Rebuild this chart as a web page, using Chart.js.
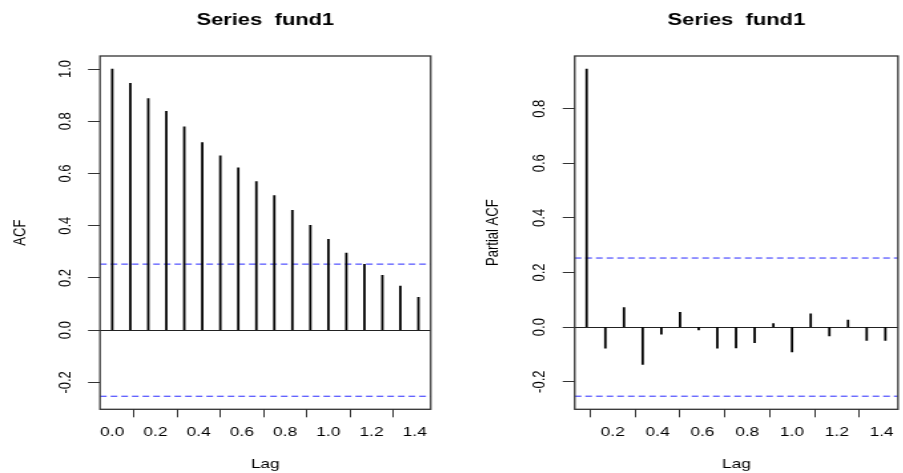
<!DOCTYPE html>
<html>
<head>
<meta charset="utf-8">
<script src="https://cdn.jsdelivr.net/npm/chart.js@4.4.0/dist/chart.umd.min.js"></script>
<style>
  html, body { margin: 0; padding: 0; background: #fff; width: 903px; height: 473px; overflow: hidden; }
  /* the R picture was stretched sideways, text and all, so stretch the canvases the same way */
  .panel { position: absolute; top: 0; height: 473px; transform: scaleX(1.33); transform-origin: 0 0; }
  #left { left: 0; width: 338.35px; }
  #right { left: 450px; width: 341.35px; }
</style>
</head>
<body>
<div class="panel" id="left"><canvas id="acfChart"></canvas></div>
<div class="panel" id="right"><canvas id="pacfChart"></canvas></div>
<script>
// lags are in years (monthly series, 1/12 steps)
const acfLags = [0, 0.0833, 0.1667, 0.25, 0.3333, 0.4167, 0.5, 0.5833, 0.6667, 0.75, 0.8333, 0.9167, 1.0, 1.0833, 1.1667, 1.25, 1.3333, 1.4167];
const acfValues = [1.0, 0.945, 0.887, 0.838, 0.779, 0.718, 0.668, 0.622, 0.569, 0.515, 0.459, 0.402, 0.348, 0.295, 0.252, 0.210, 0.169, 0.126];

const pacfLags = [0.0833, 0.1667, 0.25, 0.3333, 0.4167, 0.5, 0.5833, 0.6667, 0.75, 0.8333, 0.9167, 1.0, 1.0833, 1.1667, 1.25, 1.3333, 1.4167];
const pacfValues = [0.945, -0.077, 0.072, -0.137, -0.026, 0.054, -0.010, -0.077, -0.076, -0.057, 0.013, -0.091, 0.049, -0.032, 0.026, -0.049, -0.049];

const ciBound = 0.253; // blue dashed lines, +/- 1.96/sqrt(n)

const acfXTicks = [0, 0.2, 0.4, 0.6, 0.8, 1.0, 1.2, 1.4];
const acfYTicks = [-0.2, 0, 0.2, 0.4, 0.6, 0.8, 1.0];
const pacfXTicks = [0.2, 0.4, 0.6, 0.8, 1.0, 1.2, 1.4];
const pacfYTicks = [-0.2, 0, 0.2, 0.4, 0.6, 0.8];

const acfXRange = [-0.0567, 1.4733];
const acfYRange = [-0.303, 1.05];
const pacfXRange = [0.03, 1.473];
const pacfYRange = [-0.301, 0.993];

Chart.defaults.font.family = "'Liberation Sans', Arial, sans-serif";
Chart.defaults.font.size = 13;
Chart.defaults.color = '#000';

// box() round the plot region, like R does
const boxPlugin = {
  id: 'rBox',
  afterDraw(chart) {
    const { ctx, chartArea: a } = chart;
    ctx.save();
    ctx.strokeStyle = '#333';
    ctx.lineWidth = 1.3;
    ctx.strokeRect(a.left, a.top, a.right - a.left, a.bottom - a.top);
    ctx.restore();
  }
};

function fmt(v) {
  return Number(v).toFixed(1);
}

function drawCorrelogram(canvasId, cfg) {
  const ctx = document.getElementById(canvasId).getContext('2d');
  return new Chart(ctx, {
    type: 'bar',
    data: {
      datasets: [
        {
          type: 'bar',
          data: cfg.lags.map((lag, i) => ({ x: lag, y: cfg.values[i] })),
          backgroundColor: '#000',
          borderWidth: 0,
          barThickness: 1.15
        },
        {
          type: 'line',
          data: [{ x: cfg.xRange[0], y: ciBound }, { x: cfg.xRange[1], y: ciBound }],
          borderColor: '#2a2aff',
          borderWidth: 1,
          borderDash: [5, 3],
          pointRadius: 0
        },
        {
          type: 'line',
          data: [{ x: cfg.xRange[0], y: -ciBound }, { x: cfg.xRange[1], y: -ciBound }],
          borderColor: '#2a2aff',
          borderWidth: 1,
          borderDash: [5, 3],
          pointRadius: 0
        }
      ]
    },
    options: {
      responsive: true,
      maintainAspectRatio: false,
      animation: false,
      layout: { padding: { left: 0, right: cfg.padRight, top: 0, bottom: 0 } },
      plugins: {
        legend: { display: false },
        tooltip: { enabled: false },
        title: {
          display: true,
          text: 'Series  fund1',
          fullSize: false,
          color: '#000',
          font: { size: 16.5, weight: 'bold' },
          padding: { top: 10.6, bottom: 25.6 }
        }
      },
      scales: {
        x: {
          type: 'linear',
          min: cfg.xRange[0],
          max: cfg.xRange[1],
          offset: false,
          afterBuildTicks: (s) => { s.ticks = cfg.xTicks.map((v) => ({ value: v })); },
          afterFit: (s) => { s.height = 63.7; },
          ticks: { autoSkip: false, maxRotation: 0, padding: 7.5, callback: fmt },
          grid: { drawOnChartArea: false, tickLength: 8, tickColor: '#333' },
          border: { display: false },
          title: { display: true, text: 'Lag', font: { size: 13 }, padding: { top: 0, bottom: 1.2 } }
        },
        y: {
          type: 'linear',
          min: cfg.yRange[0],
          max: cfg.yRange[1],
          afterBuildTicks: (s) => { s.ticks = cfg.yTicks.map((v) => ({ value: v })); },
          afterFit: (s) => { s.width = cfg.axisWidth; },
          ticks: { minRotation: 90, maxRotation: 90, crossAlign: 'center', padding: 6, callback: fmt },
          grid: {
            drawOnChartArea: true,
            tickLength: 9,
            tickColor: '#333',
            // only the zero line goes across the plot
            color: (c) => (c.tick && c.tick.value === 0 ? '#222' : 'rgba(0,0,0,0)')
          },
          border: { display: false },
          title: { display: true, text: cfg.yTitle, font: { size: 13 }, padding: { top: cfg.yTitlePad, bottom: 0 } }
        }
      }
    },
    plugins: [boxPlugin]
  });
}

drawCorrelogram('acfChart', {
  lags: acfLags, values: acfValues,
  xRange: acfXRange, yRange: acfYRange,
  xTicks: acfXTicks, yTicks: acfYTicks,
  yTitle: 'ACF', yTitlePad: 7.2,
  axisWidth: 75.19, padRight: 14.52
});

drawCorrelogram('pacfChart', {
  lags: pacfLags, values: pacfValues,
  xRange: pacfXRange, yRange: pacfYRange,
  xTicks: pacfXTicks, yTicks: pacfYTicks,
  yTitle: 'Partial ACF', yTitlePad: 24.8,
  axisWidth: 93.76, padRight: 0
});
</script>
</body>
</html>
